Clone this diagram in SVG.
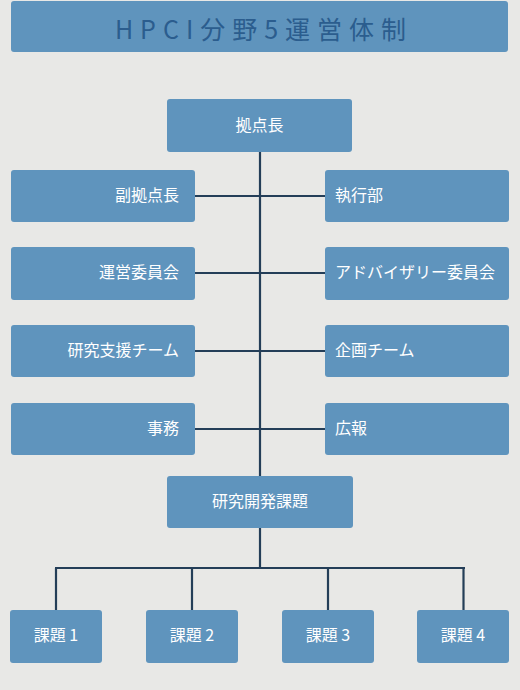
<svg xmlns="http://www.w3.org/2000/svg" width="520" height="690" viewBox="0 0 520 690">
<style>
.bx{fill:#5f94bd;}
.t{fill:#ffffff;font-family:"Noto Sans CJK JP","Liberation Sans",sans-serif;font-size:16px;dominant-baseline:central;}
.c{stroke:#243e58;stroke-width:2.2;fill:none;}
</style>
<rect width="520" height="690" fill="#e8e8e6"/>
<g id="title">
<rect x="11" y="1" width="497" height="51" rx="3" class="bx"/>
<text x="264" y="28" text-anchor="middle" style="fill:#2b5d8e;font-family:'Noto Sans CJK JP','Liberation Sans',sans-serif;font-size:25px;letter-spacing:7px;dominant-baseline:central;">HPCI分野5運営体制</text>
</g>
<g id="connectors">
<line class="c" x1="260" y1="152" x2="260" y2="476"/>
<line class="c" x1="195" y1="196" x2="325" y2="196"/>
<line class="c" x1="195" y1="273" x2="325" y2="273"/>
<line class="c" x1="195" y1="351" x2="325" y2="351"/>
<line class="c" x1="195" y1="429" x2="325" y2="429"/>
<line class="c" x1="260" y1="528" x2="260" y2="568"/>
<line class="c" x1="55" y1="568" x2="465" y2="568"/>
<line class="c" x1="56" y1="568" x2="56" y2="610"/>
<line class="c" x1="192" y1="568" x2="192" y2="610"/>
<line class="c" x1="328" y1="568" x2="328" y2="610"/>
<line class="c" x1="463.5" y1="568" x2="463.5" y2="610"/>
</g>
<g id="n-kyotencho"><rect x="167" y="99" width="185" height="53" rx="3" class="bx"/><text class="t" x="259.5" y="124" text-anchor="middle">拠点長</text></g>
<g id="n-fuku"><rect x="11" y="170" width="184" height="52" rx="3" class="bx"/><text class="t" x="179" y="194" text-anchor="end">副拠点長</text></g>
<g id="n-shikko"><rect x="325" y="170" width="184" height="52" rx="3" class="bx"/><text class="t" x="335" y="194">執行部</text></g>
<g id="n-unei"><rect x="11" y="247" width="184" height="53" rx="3" class="bx"/><text class="t" x="179" y="271" text-anchor="end">運営委員会</text></g>
<g id="n-advisory"><rect x="325" y="247" width="184" height="53" rx="3" class="bx"/><text class="t" x="335" y="271">アドバイザリー委員会</text></g>
<g id="n-shien"><rect x="11" y="325" width="184" height="52" rx="3" class="bx"/><text class="t" x="179" y="349" text-anchor="end">研究支援チーム</text></g>
<g id="n-kikaku"><rect x="325" y="325" width="184" height="52" rx="3" class="bx"/><text class="t" x="335" y="349">企画チーム</text></g>
<g id="n-jimu"><rect x="11" y="403" width="184" height="52" rx="3" class="bx"/><text class="t" x="179" y="427" text-anchor="end">事務</text></g>
<g id="n-koho"><rect x="325" y="403" width="184" height="52" rx="3" class="bx"/><text class="t" x="335" y="427">広報</text></g>
<g id="n-kaihatsu"><rect x="167" y="476" width="186" height="52" rx="3" class="bx"/><text class="t" x="260" y="500" text-anchor="middle">研究開発課題</text></g>
<g id="n-k1"><rect x="10" y="610" width="92" height="53" rx="3" class="bx"/><text class="t" x="56" y="634" text-anchor="middle">課題 1</text></g>
<g id="n-k2"><rect x="146" y="610" width="92" height="53" rx="3" class="bx"/><text class="t" x="192" y="634" text-anchor="middle">課題 2</text></g>
<g id="n-k3"><rect x="282" y="610" width="92" height="53" rx="3" class="bx"/><text class="t" x="328" y="634" text-anchor="middle">課題 3</text></g>
<g id="n-k4"><rect x="417" y="610" width="92" height="53" rx="3" class="bx"/><text class="t" x="463" y="634" text-anchor="middle">課題 4</text></g>
</svg>
